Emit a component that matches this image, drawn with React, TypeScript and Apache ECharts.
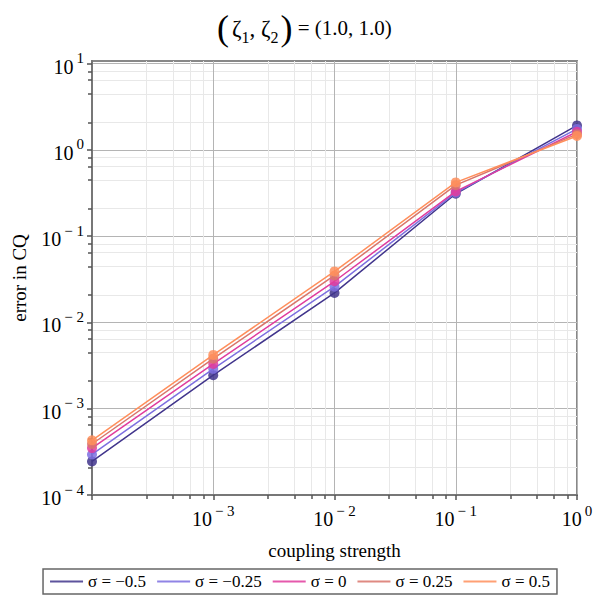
import React, { useEffect, useRef } from "react";
import * as echarts from "echarts";

// ---- data ----
const couplingStrength = [1e-4, 1e-3, 1e-2, 1e-1, 1];
const sigmaNames = ["σ = −0.5", "σ = −0.25", "σ = 0", "σ = 0.25", "σ = 0.5"];
const errSigmaM050 = [2.45e-4, 2.45e-3, 0.022, 0.31, 1.92];
const errSigmaM025 = [2.95e-4, 2.9e-3, 0.026, 0.32, 1.75];
const errSigma000 = [3.5e-4, 3.3e-3, 0.03, 0.33, 1.62];
const errSigmaP025 = [3.9e-4, 3.8e-3, 0.035, 0.39, 1.52];
const errSigmaP050 = [4.3e-4, 4.2e-3, 0.039, 0.42, 1.45];
const seriesValues = [errSigmaM050, errSigmaM025, errSigma000, errSigmaP025, errSigmaP050];

// tick exponents (labels 10^n)
const xLabelExps = [-3, -2, -1, 0];
const xMajorExps = [-4, -3, -2, -1, 0];
const yLabelExps = [-4, -3, -2, -1, 0, 1];
const yMajorExps = [-4, -3, -2, -1, 0, 1];
// minor tick offsets inside a decade (log10 fraction)
const xMinorFrac = [0.45, 0.67, 0.81, 0.92];
const yMinorFrac = [0.32, 0.65, 0.81, 0.91];

const colors = ["#41358c", "#7d6fe0", "#e03c9e", "#d9766c", "#ff8f5c"];

const FONT = "Liberation Serif";

function expLabel(v: number) {
  const n = Math.round(v);
  const s = n < 0 ? "\u2212 " + -n : String(n);
  return `{b|10}{e|${s}}`;
}

const labelRich = {
  b: { fontSize: 20, fontFamily: FONT, fontWeight: "normal", color: "#000", lineHeight: 26, verticalAlign: "bottom" },
  e: { fontSize: 15, fontFamily: FONT, fontWeight: "normal", color: "#000", lineHeight: 26, verticalAlign: "top", padding: [0, 0, 0, 3] },
};

function minorValues(majors: number[], fracs: number[], max: number) {
  const out: number[] = [];
  majors.forEach((m) => fracs.forEach((f) => { if (m + f < max) out.push(m + f); }));
  return out;
}

export default function App() {
  const ref = useRef<HTMLDivElement>(null);
  useEffect(() => {
    if (!ref.current) return;
    const chart = echarts.init(ref.current, null, { renderer: "svg" });
    const xMin = -4, xMax = 0, yMin = -4, yMax = 1.03;
    const xMinor = minorValues(xMajorExps, xMinorFrac, xMax);
    const yMinor = minorValues([-4, -3, -2, -1, 0], yMinorFrac, 1);

    const series = seriesValues.map((vals, i) => ({
      name: sigmaNames[i],
      type: "line",
      xAxisIndex: 1,
      yAxisIndex: 1,
      data: couplingStrength.map((x, j) => [Math.log10(x), Math.log10(vals[j])]),
      symbol: "circle",
      symbolSize: 10,
      lineStyle: { color: colors[i], width: 1.5 },
      itemStyle: { color: colors[i], opacity: 0.85 },
      z: 3 + i,
    }));

    chart.setOption({
      animation: false,
      textStyle: { fontFamily: FONT },
      title: {
        left: 212,
        top: 1,
        text: "{p|(}{z|ζ}{s|1}{z|, ζ}{s|2}{q|)}{n| = (1.0, 1.0)}",
        textStyle: {
          fontFamily: FONT,
          fontWeight: "normal",
          rich: {
            p: { fontSize: 36, fontFamily: FONT, fontWeight: "normal", color: "#000", lineHeight: 44, padding: [0, 3, 0, 0] },
            q: { fontSize: 36, fontFamily: FONT, fontWeight: "normal", color: "#000", lineHeight: 44, padding: [0, 0, 0, 2] },
            z: { fontSize: 23, fontFamily: FONT, fontWeight: "normal", color: "#000", lineHeight: 44 },
            s: { fontSize: 16, fontFamily: FONT, fontWeight: "normal", color: "#000", lineHeight: 44, verticalAlign: "bottom", padding: [0, 0, 5, 0] },
            n: { fontSize: 21, fontFamily: FONT, fontWeight: "normal", color: "#000", lineHeight: 44 },
          },
        },
      },
      grid: {
        left: 92,
        right: 23,
        top: 61,
        bottom: 105,
        show: true,
        borderColor: "#888",
        borderWidth: 2,
      },
      legend: {
        bottom: 6,
        left: "center",
        data: sigmaNames,
        icon: "rect",
        itemWidth: 33,
        itemHeight: 2,
        itemGap: 11,
        padding: [4, 7, 4, 7],
        borderColor: "#666",
        borderWidth: 1.5,
        borderRadius: 0,
        formatter: "{t|{name}}",
        textStyle: {
          fontSize: 17,
          fontFamily: FONT,
          color: "#000",
          rich: { t: { fontSize: 17, fontFamily: FONT, fontWeight: "normal", color: "#000" } },
        },
      },
      xAxis: [
        {
          type: "value",
          position: "bottom",
          min: xMin,
          max: xMax,
          axisLine: { show: false, onZero: false },
          axisLabel: { show: false },
          axisTick: { show: true, customValues: xMinor, length: 4, lineStyle: { color: "#555", width: 1.5 } },
          splitLine: { show: true, lineStyle: { color: "#e8e8e8", width: 1 } },
        },
        {
          type: "value",
          position: "bottom",
          min: xMin,
          max: xMax,
          axisLine: { show: true, onZero: false, lineStyle: { color: "#777", width: 2 } },
          axisTick: { show: true, customValues: xMajorExps, length: 5, lineStyle: { color: "#555", width: 1.5 } },
          axisLabel: {
            customValues: xLabelExps,
            formatter: expLabel,
            rich: labelRich,
            margin: 8,
          },
          splitLine: { show: true, lineStyle: { color: "#b4b4b4", width: 1 } },
          name: "coupling strength",
          nameLocation: "middle",
          nameGap: 46,
          nameTextStyle: { fontSize: 19, fontFamily: FONT, color: "#000" },
        },
      ],
      yAxis: [
        {
          type: "value",
          position: "left",
          min: yMin,
          max: yMax,
          axisLine: { show: false, onZero: false },
          axisLabel: { show: false },
          axisTick: { show: true, customValues: yMinor, length: 4, lineStyle: { color: "#555", width: 1.5 } },
          splitLine: { show: true, lineStyle: { color: "#e8e8e8", width: 1 } },
        },
        {
          type: "value",
          position: "left",
          min: yMin,
          max: yMax,
          axisLine: { show: true, onZero: false, lineStyle: { color: "#777", width: 2 } },
          axisTick: { show: true, customValues: yMajorExps, length: 5, lineStyle: { color: "#555", width: 1.5 } },
          axisLabel: {
            customValues: yLabelExps,
            formatter: expLabel,
            rich: labelRich,
            margin: 8,
          },
          splitLine: { show: true, lineStyle: { color: "#b4b4b4", width: 1 } },
          name: "error in CQ",
          nameLocation: "middle",
          nameGap: 63,
          nameRotate: 90,
          nameTextStyle: { fontSize: 19, fontFamily: FONT, color: "#000" },
        },
      ],
      series,
    });
    return () => chart.dispose();
  }, []);
  return (
    <div
      ref={ref}
      style={{ position: "absolute", left: 0, top: 0, width: 600, height: 600, background: "#fff" }}
    />
  );
}
